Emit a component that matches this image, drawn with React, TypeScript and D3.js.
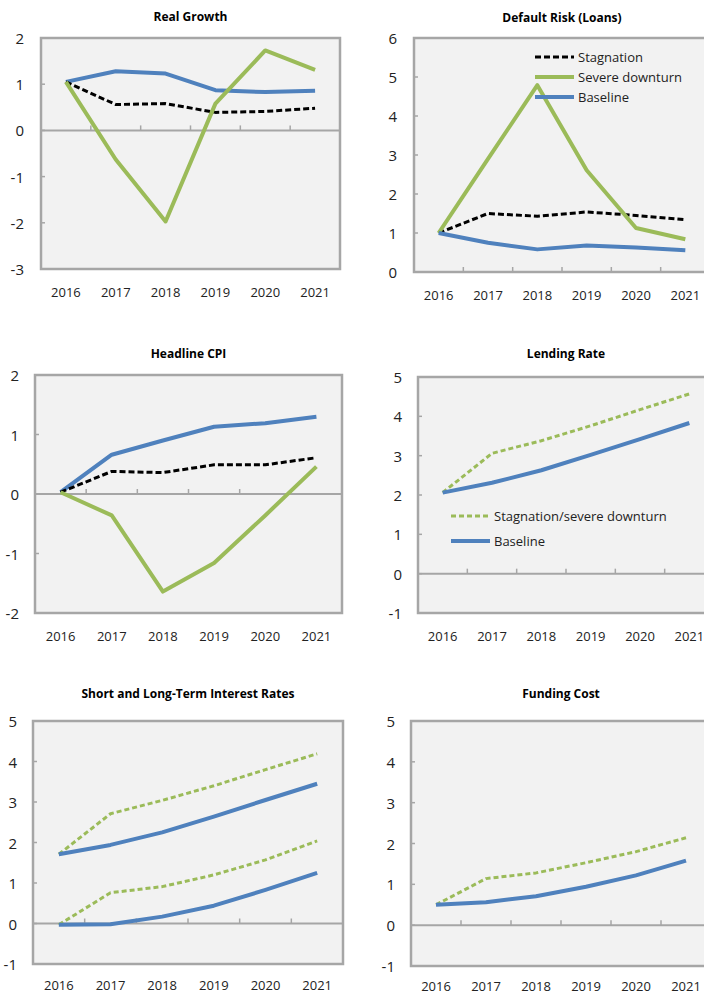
import React from 'react';
import * as d3 from 'd3';

const years = ['2016', '2017', '2018', '2019', '2020', '2021'];

// Real Growth
const growthStagnation = [1.05, 0.56, 0.58, 0.39, 0.41, 0.48];
const growthSevere = [1.05, -0.63, -1.97, 0.58, 1.73, 1.31];
const growthBaseline = [1.05, 1.28, 1.23, 0.87, 0.83, 0.86];

// Default Risk (Loans)
const riskStagnation = [1.0, 1.5, 1.43, 1.54, 1.45, 1.34];
const riskSevere = [1.0, 2.9, 4.79, 2.61, 1.13, 0.84];
const riskBaseline = [1.0, 0.75, 0.58, 0.68, 0.63, 0.56];

// Headline CPI
const cpiStagnation = [0.03, 0.38, 0.36, 0.49, 0.49, 0.61];
const cpiSevere = [0.03, -0.36, -1.64, -1.16, -0.36, 0.46];
const cpiBaseline = [0.03, 0.66, 0.9, 1.13, 1.19, 1.3];

// Lending Rate
const lendingStress = [2.06, 3.06, 3.38, 3.76, 4.17, 4.57];
const lendingBaseline = [2.06, 2.31, 2.63, 3.02, 3.42, 3.83];

// Short and Long-Term Interest Rates
const longStress = [1.71, 2.71, 3.04, 3.4, 3.8, 4.19];
const longBaseline = [1.71, 1.94, 2.25, 2.64, 3.05, 3.45];
const shortStress = [-0.03, 0.76, 0.91, 1.2, 1.57, 2.04];
const shortBaseline = [-0.03, -0.02, 0.17, 0.44, 0.83, 1.25];

// Funding Cost
const fundingStress = [0.5, 1.14, 1.28, 1.53, 1.8, 2.14];
const fundingBaseline = [0.5, 0.56, 0.71, 0.94, 1.22, 1.58];

const BLUE = '#4f81bd';
const GREEN = '#9bbb59';
const BLACK = '#000000';
const BORDER = '#a6a6a6';
const FONT = '"Open Sans", "Noto Sans", sans-serif';

interface Series {
  values: number[];
  color: string;
  width: number;
  dash?: string;
}

interface LegendItem {
  label: string;
  color: string;
  width: number;
  dash?: string;
}

interface PanelProps {
  title: string;
  x0: number;
  x1: number;
  y0: number;
  y1: number;
  titleY: number;
  labelRight: number;
  xLabelGap?: number;
  domain: [number, number];
  series: Series[];
  legend?: { x: number; y: number; gap: number; items: LegendItem[] };
}

const solid = (values: number[], color: string): Series => ({ values, color, width: 4 });
const blackDash = (values: number[]): Series => ({ values, color: BLACK, width: 3, dash: '6,3' });
const greenDash = (values: number[]): Series => ({ values, color: GREEN, width: 3, dash: '5,3' });

function Panel({ title, x0, x1, y0, y1, titleY, labelRight, xLabelGap = 23, domain, series, legend }: PanelProps) {
  const x = d3.scaleBand<string>().domain(years).range([x0, x1]);
  const y = d3.scaleLinear().domain(domain).range([y1, y0]);
  const ticks = d3.range(domain[0], domain[1] + 1);
  const axisY = domain[0] < 0 ? y(0) : y1;
  const line = d3
    .line<number>()
    .x((_, i) => x(years[i])! + x.bandwidth() / 2)
    .y(d => y(d));

  return (
    <g>
      <text x={(x0 + x1) / 2} y={titleY} textAnchor="middle" dominantBaseline="central"
        fontSize={12} fontWeight="bold" fill="#000">{title}</text>
      <rect x={x0} y={y0} width={x1 - x0} height={y1 - y0} fill="#f2f2f2" stroke={BORDER} strokeWidth={2.5} />
      {ticks.map(t => (
        <g key={t}>
          <line x1={x0} x2={x0 + 4} y1={y(t)} y2={y(t)} stroke={BORDER} strokeWidth={1.5} />
          <text x={labelRight} y={y(t)} textAnchor="end" dominantBaseline="central" fontSize={15} fill="#222">{t}</text>
        </g>
      ))}
      <line x1={x0} x2={x1} y1={axisY} y2={axisY} stroke={BORDER} strokeWidth={2} />
      {years.slice(1).map(yr => (
        <line key={yr} x1={x(yr)!} x2={x(yr)!} y1={axisY} y2={axisY - 5} stroke={BORDER} strokeWidth={1.5} />
      ))}
      {years.map(yr => (
        <text key={yr} x={x(yr)! + x.bandwidth() / 2} y={y1 + xLabelGap} textAnchor="middle"
          dominantBaseline="central" fontSize={13} fill="#222">{yr}</text>
      ))}
      {series.map((s, i) => (
        <path key={i} d={line(s.values)!} fill="none" stroke={s.color} strokeWidth={s.width}
          strokeDasharray={s.dash} strokeLinejoin="round" />
      ))}
      {legend &&
        legend.items.map((it, i) => (
          <g key={it.label}>
            <line x1={legend.x} x2={legend.x + 39} y1={legend.y + i * legend.gap} y2={legend.y + i * legend.gap}
              stroke={it.color} strokeWidth={it.width} strokeDasharray={it.dash} />
            <text x={legend.x + 43} y={legend.y + i * legend.gap} dominantBaseline="central" fontSize={13} fill="#222">
              {it.label}
            </text>
          </g>
        ))}
    </g>
  );
}

export default function App() {
  return (
    <div style={{ position: 'absolute', left: 0, top: 0 }}>
      <svg width={704} height={996} style={{ display: 'block', fontFamily: FONT }}>
        <rect width={704} height={996} fill="#fff" />
        <Panel title="Real Growth" x0={41} x1={340} y0={38} y1={269} titleY={16} labelRight={24}
          domain={[-3, 2]}
          series={[solid(growthBaseline, BLUE), blackDash(growthStagnation), solid(growthSevere, GREEN)]} />
        <Panel title="Default Risk (Loans)" x0={414} x1={710} y0={38} y1={272} titleY={17} labelRight={397}
          domain={[0, 6]}
          series={[blackDash(riskStagnation), solid(riskSevere, GREEN), solid(riskBaseline, BLUE)]}
          legend={{
            x: 535, y: 57, gap: 20,
            items: [
              { label: 'Stagnation', color: BLACK, width: 3, dash: '6,3' },
              { label: 'Severe downturn', color: GREEN, width: 4 },
              { label: 'Baseline', color: BLUE, width: 4 },
            ],
          }} />
        <Panel title="Headline CPI" x0={35} x1={342} y0={375} y1={613} titleY={353} labelRight={19}
          domain={[-2, 2]}
          series={[solid(cpiBaseline, BLUE), blackDash(cpiStagnation), solid(cpiSevere, GREEN)]} />
        <Panel title="Lending Rate" x0={418} x1={714} y0={377} y1={613} titleY={353} labelRight={402}
          domain={[-1, 5]}
          series={[greenDash(lendingStress), solid(lendingBaseline, BLUE)]}
          legend={{
            x: 451, y: 516, gap: 25,
            items: [
              { label: 'Stagnation/severe downturn', color: GREEN, width: 3, dash: '5,3' },
              { label: 'Baseline', color: BLUE, width: 4 },
            ],
          }} />
        <Panel title="Short and Long-Term Interest Rates" x0={33} x1={343} y0={721} y1={964} titleY={693}
          labelRight={17} xLabelGap={21} domain={[-1, 5]}
          series={[greenDash(longStress), solid(longBaseline, BLUE), greenDash(shortStress), solid(shortBaseline, BLUE)]} />
        <Panel title="Funding Cost" x0={411} x1={711} y0={721} y1={966} titleY={693} labelRight={395}
          xLabelGap={20} domain={[-1, 5]}
          series={[greenDash(fundingStress), solid(fundingBaseline, BLUE)]} />
      </svg>
    </div>
  );
}
